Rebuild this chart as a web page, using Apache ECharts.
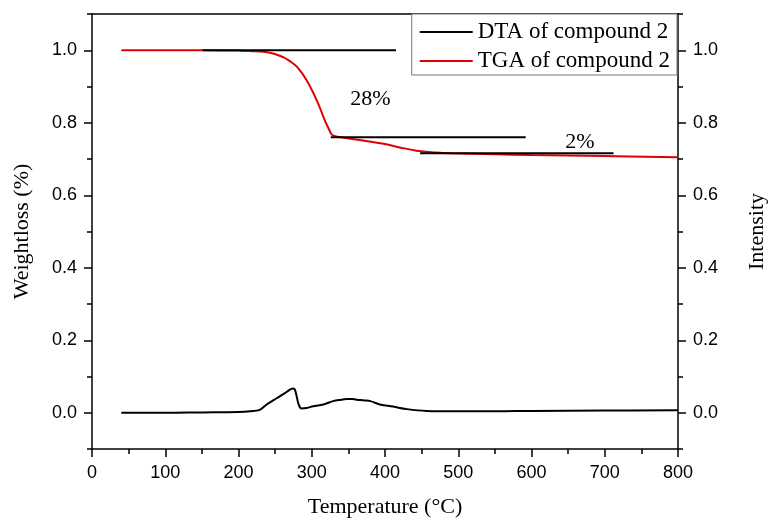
<!DOCTYPE html>
<html>
<head>
<meta charset="utf-8">
<script src="https://cdn.jsdelivr.net/npm/echarts@6/dist/echarts.min.js"></script>
<style>html,body{margin:0;padding:0;background:#fff}#c{width:769px;height:522px}</style>
</head>
<body>
<div id="c"></div>
<script>
// ---- data ----
const dtaT = [40,100,150,200,216,229,238,252,260,266,272,275,277,280,282,286,293,302,316,329,340,348,355,361,372,380,393,411,430,457,489,550,600,700,800];
const dtaV = [0.000,0.000,0.001,0.002,0.004,0.008,0.022,0.040,0.050,0.058,0.066,0.067,0.064,0.040,0.024,0.012,0.013,0.018,0.023,0.032,0.036,0.038,0.038,0.036,0.034,0.032,0.023,0.017,0.010,0.005,0.004,0.004,0.005,0.006,0.007];

const tgaT = [40,100,150,200,215,243,261,270,280,293,307,318,324,327,332,340,370,398,420,443,470,489,550,600,700,800];
const tgaV = [1.000,1.000,1.000,0.999,0.998,0.993,0.981,0.970,0.954,0.917,0.861,0.806,0.780,0.768,0.763,0.760,0.751,0.742,0.732,0.723,0.718,0.716,0.713,0.711,0.708,0.705];

const refY     = [1.0, 0.760, 0.716];
const refStart = [151, 326, 448];
const refEnd   = [415, 592, 712];

const noteText = ['28%', '2%'];
const noteT    = [380, 666];
const noteV    = [0.866, 0.745];

const xTicks      = [0,100,200,300,400,500,600,700,800];
const yMajorTicks = [0.0,0.2,0.4,0.6,0.8,1.0];
const yMinorTicks = [-0.1,0.1,0.3,0.5,0.7,0.9,1.1];

const seriesNames = ['DTA of compound 2','TGA of compound 2'];
// --------------------------------------

const serif = 'Liberation Serif, Times New Roman, serif';
const sans = 'Liberation Sans, Arial, sans-serif';
const axisLine = {show:true, onZero:false, lineStyle:{color:'#000', width:1.5}};

const chart = echarts.init(document.getElementById('c'), null, {renderer:'canvas'});

const zip = (a,b)=>a.map((v,i)=>[v,b[i]]);

const refSeries = refY.map((y,i)=>({
  type:'line', name:'ref'+i, data:[[refStart[i],y],[refEnd[i],y]],
  symbol:'none', lineStyle:{color:'#000', width:2}, silent:true, z:4
}));

function yAxisMain(pos, name, gap){
  return {
    type:'value', position:pos, min:-0.1, max:1.1,
    name:name, nameLocation:'middle', nameGap:gap, nameRotate:90,
    nameTextStyle:{fontFamily:serif, fontSize:22, color:'#000'},
    axisLine:axisLine,
    axisTick:{show:true, inside:false, length:8, lineStyle:{color:'#000', width:1.5}, customValues:yMajorTicks},
    axisLabel:{show:true, margin:15, fontFamily:sans, fontSize:18, color:'#000',
      customValues:yMajorTicks, formatter:v=>v.toFixed(1)},
    splitLine:{show:false}
  };
}
function yAxisMinor(pos){
  return {
    type:'value', position:pos, min:-0.1, max:1.1,
    axisLine:{show:false, onZero:false},
    axisTick:{show:true, inside:false, length:5, lineStyle:{color:'#000', width:1.5}, customValues:yMinorTicks},
    axisLabel:{show:false},
    splitLine:{show:false}
  };
}

const option = {
  backgroundColor:'#fff',
  animation:false,
  grid:{left:92, right:91, top:14, bottom:73, containLabel:false, outerBoundsMode:'none'},
  legend:{
    data:seriesNames, orient:'vertical', right:92, top:14,
    icon:'rect', itemWidth:53, itemHeight:2, itemGap:5,
    padding:[6,7,2,8],
    borderColor:'#777', borderWidth:1, backgroundColor:'#fff',
    textStyle:{fontFamily:serif, fontSize:23, color:'#000', lineHeight:24}
  },
  xAxis:[
    {
      type:'value', position:'bottom', min:0, max:800, interval:100,
      name:'Temperature (°C)', nameLocation:'middle', nameGap:47,
      nameTextStyle:{fontFamily:serif, fontSize:22, color:'#000'},
      axisLine:axisLine,
      axisTick:{show:true, inside:false, length:8, lineStyle:{color:'#000', width:1.5}},
      minorTick:{show:true, splitNumber:2, length:5, lineStyle:{color:'#000', width:1.5}},
      axisLabel:{margin:15, fontFamily:sans, fontSize:18, color:'#000',
        customValues:xTicks},
      splitLine:{show:false}, minorSplitLine:{show:false}
    },
    {
      type:'value', position:'top', min:0, max:800,
      axisLine:axisLine, axisTick:{show:false}, axisLabel:{show:false}, splitLine:{show:false}
    }
  ],
  yAxis:[
    yAxisMain('left','Weightloss (%)',59),
    yAxisMain('right','Intensity',68),
    yAxisMinor('left'),
    yAxisMinor('right')
  ],
  series:[
    {
      type:'line', name:seriesNames[0], data:zip(dtaT,dtaV),
      symbol:'none', smooth:0.4,
      lineStyle:{color:'#000', width:2}, itemStyle:{color:'#000'}, z:3
    },
    {
      type:'line', name:seriesNames[1], data:zip(tgaT,tgaV),
      symbol:'none', smooth:0.4,
      lineStyle:{color:'#e00000', width:2}, itemStyle:{color:'#e00000'}, z:3
    },
    ...refSeries,
    {
      type:'scatter', name:'notes', symbolSize:1, itemStyle:{color:'rgba(0,0,0,0)'},
      data:noteText.map((t,i)=>({value:[noteT[i],noteV[i]], name:t})),
      label:{show:true, position:'inside', formatter:p=>p.name,
        fontFamily:serif, fontSize:22, color:'#000', opacity:1},
      silent:true, z:5
    }
  ]
};
chart.setOption(option);
</script>
</body>
</html>
